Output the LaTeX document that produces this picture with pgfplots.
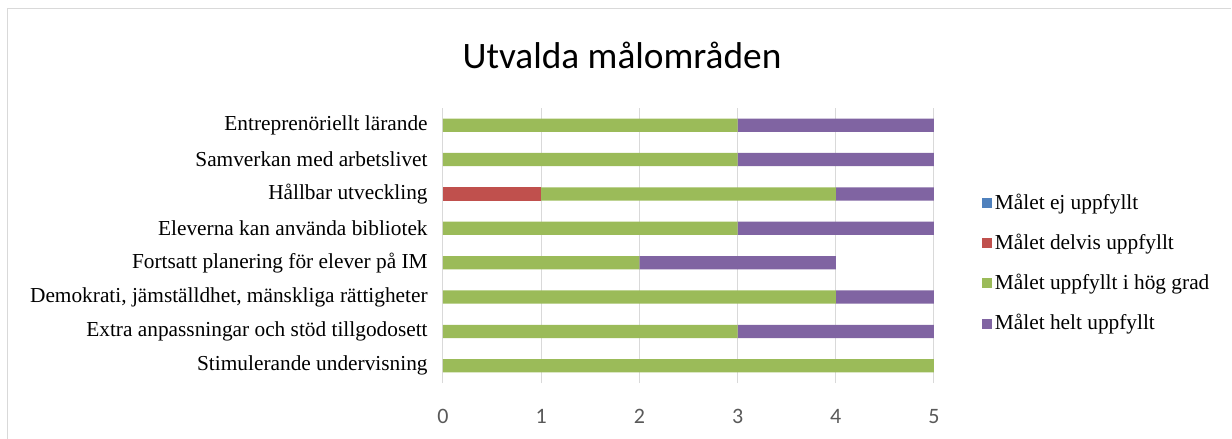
\documentclass[border=0pt]{standalone}
\usepackage{pgfplots}
\pgfplotsset{compat=1.18}
\usepackage{fontspec}
\setmainfont{Liberation Serif}
\newfontfamily\calibri{Carlito}
\definecolor{cblue}{HTML}{4F81BD}
\definecolor{cred}{HTML}{C0504D}
\definecolor{cgreen}{HTML}{9BBB59}
\definecolor{cpurple}{HTML}{8064A2}
\definecolor{gridgray}{HTML}{D9D9D9}
\definecolor{ticktext}{HTML}{595959}
\begin{document}
\begin{tikzpicture}[x=1pt,y=1pt]
\begin{axis}[
  at={(0,0)}, anchor=south west,
  scale only axis, width=368.25pt, height=206.25pt,
  xbar stacked, bar width=10pt,
  xmin=0, xmax=5, ymin=-0.5, ymax=7.5,
  axis lines*=left,
  x axis line style={draw=none},
  y axis line style={draw=gridgray, line width=0.75pt},
  xtick={0,1,2,3,4,5},
  xmajorgrids, grid style={draw=gridgray, line width=0.75pt},
  major x tick style={draw=none},
  /pgf/number format/assume math mode=true,
  xticklabel style={font=\calibri\fontsize{16.5}{16.5}\selectfont, text=ticktext, yshift=-16pt},
  ytick={0,1,2,3,4,5,6,7},
  yticklabels={Stimulerande undervisning, Extra anpassningar och stöd tillgodosett, {Demokrati, jämställdhet, mänskliga rättigheter}, Fortsatt planering för elever på IM, Eleverna kan använda bibliotek, Hållbar utveckling, Samverkan med arbetslivet, Entreprenöriellt lärande},
  major y tick style={draw=none},
  yticklabel style={font=\fontsize{16}{16}\selectfont, xshift=-8pt},
  extra y ticks={-0.5,0.5,1.5,2.5,3.5,4.5,5.5,6.5,7.5},
  extra y tick labels={},
  extra y tick style={tick align=outside, major tick length=4pt, tick style={draw=gridgray, line width=0.75pt}, grid=none},
  legend style={at={(1.0896,0.436)}, anchor=west, draw=none, fill=none,
    font=\fontsize{16}{16}\selectfont, row sep=13pt},
  legend cell align=left,
  legend image code/.code={\fill[#1] (0pt,-4pt) rectangle (7.5pt,3.5pt);},
]
\addplot[fill=cblue, draw=none] coordinates {(0,0) (0,1) (0,2) (0,3) (0,4) (0,5) (0,6) (0,7)};
\addplot[fill=cred, draw=none] coordinates {(0,0) (0,1) (0,2) (0,3) (0,4) (1,5) (0,6) (0,7)};
\addplot[fill=cgreen, draw=none] coordinates {(5,0) (3,1) (4,2) (2,3) (3,4) (3,5) (3,6) (3,7)};
\addplot[fill=cpurple, draw=none] coordinates {(0,0) (2,1) (1,2) (2,3) (2,4) (1,5) (2,6) (2,7)};
\legend{Målet ej uppfyllt, Målet delvis uppfyllt, Målet uppfyllt i hög grad, Målet helt uppfyllt}
\end{axis}
\node[font=\calibri\fontsize{28}{28}\selectfont] at (134.25pt,246pt) {Utvalda målområden};
\draw[gridgray, line width=0.75pt] (-326.25pt,-60pt) -- (-326.25pt,280.5pt) -- (591pt,280.5pt);
\pgfresetboundingbox
\path[use as bounding box] (-332.25pt,-42pt) rectangle (591.75pt,287.25pt);
\end{tikzpicture}
\end{document}
